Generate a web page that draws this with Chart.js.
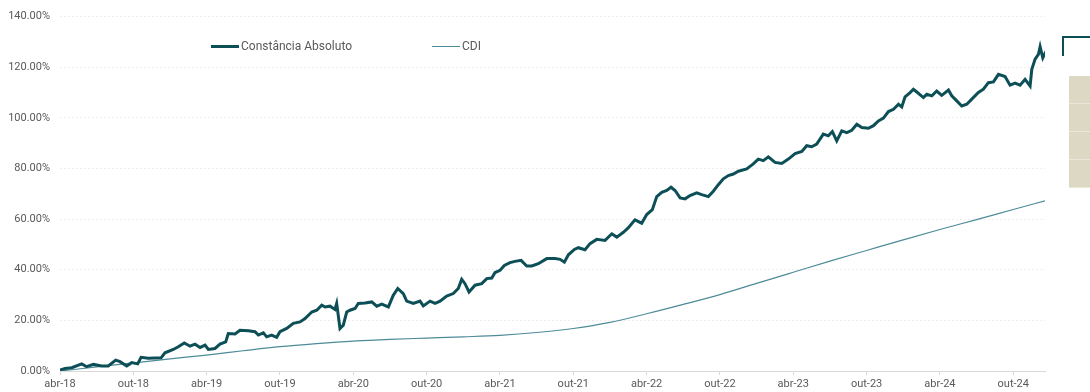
<!DOCTYPE html>
<html lang="pt-BR">
<head>
<meta charset="utf-8">
<title>Constância Absoluto x CDI</title>
<script src="https://cdn.jsdelivr.net/npm/chart.js@4.4.1/dist/chart.umd.min.js"></script>
<style>
  html, body { margin: 0; padding: 0; background: #fff; }
  #wrap { position: relative; width: 1090px; height: 392px; overflow: hidden; font-family: Roboto, "Noto Sans", sans-serif; }
  #grafico { position: absolute; left: 0; top: 0; }
  .leg { position: absolute; top: 39px; font-size: 12px; color: #595959; display: flex; align-items: center; white-space: nowrap; }
  .leg span.amostra { display: inline-block; width: 28px; margin-right: 2px; }
  #colchete { position: absolute; left: 1062px; top: 36px; width: 40px; height: 18px; border-top: 2px solid #0d4f57; border-left: 2px solid #0d4f57; }
  #caixa { position: absolute; left: 1069px; top: 76px; width: 30px; height: 112px; background: #ddd8c3; }
  #caixa div { height: 27px; border-bottom: 1px solid #ebe7da; }
</style>
</head>
<body>
<div id="wrap">
  <canvas id="grafico" width="1090" height="392"></canvas>
  <div class="leg" style="left:211px"><span class="amostra" style="border-top:3px solid #0d4f57"></span>Constância Absoluto</div>
  <div class="leg" style="left:432px"><span class="amostra" style="border-top:1px solid #4d8b99"></span>CDI</div>
  <div id="colchete"></div>
  <div id="caixa"><div></div><div></div><div></div><div></div></div>
</div>
<script>
// meses contados a partir de abr-18 (0 = abr-18)
const rotulosX = ["abr-18", "out-18", "abr-19", "out-19", "abr-20", "out-20", "abr-21",
  "out-21", "abr-22", "out-22", "abr-23", "out-23", "abr-24", "out-24"];
const mesesTicks = [0, 6, 12, 18, 24, 30, 36, 42, 48, 54, 60, 66, 72, 78];

const constanciaMes = [
  0.00, 0.41, 0.96, 1.78, 2.18, 2.73, 3.41, 3.95, 4.56, 4.91, 5.46, 5.87, 6.36, 6.63, 7.23, 8.27,
  8.59, 9.27, 9.68, 10.17, 10.64, 11.05, 11.46, 11.87, 12.14, 12.68, 13.09, 13.56, 13.77, 14.32,
  14.73, 15.41, 15.96, 16.23, 16.64, 16.91, 17.32, 17.73, 18.00, 18.55, 19.09, 19.64, 20.05,
  20.60, 21.01, 21.42, 21.69, 22.09, 22.50, 22.64, 22.91, 23.18, 23.46, 23.73, 24.14, 24.41,
  24.96, 25.51, 25.92, 26.33, 26.87, 27.27, 27.64, 28.09, 28.37, 28.91, 29.46, 29.73, 30.28,
  30.69, 31.10, 31.64, 32.18, 32.59, 32.87, 33.14, 33.47, 33.96, 34.51, 34.92, 35.33, 35.60,
  36.01, 36.36, 36.82, 37.23, 37.73, 38.19, 38.60, 39.14, 39.83, 40.51, 40.92, 41.27, 41.60,
  42.09, 42.41, 42.96, 43.37, 43.92, 44.60, 45.15, 45.56, 46.10, 46.51, 47.05, 47.60, 48.01,
  48.47, 48.83, 49.24, 49.65, 50.00, 50.33, 50.74, 51.15, 51.55, 52.10, 52.51, 53.05, 53.46,
  53.87, 54.28, 54.69, 55.10, 55.51, 56.19, 56.73, 57.14, 57.55, 57.96, 58.51, 59.06, 59.60,
  60.15, 60.70, 61.10, 61.51, 61.92, 62.46, 62.87, 63.20, 63.56, 63.97, 64.38, 64.79, 65.20,
  65.61, 66.15, 66.56, 66.97, 67.38, 67.79, 68.20, 68.61, 68.88, 69.15, 69.56, 69.83, 70.11,
  70.65, 70.93, 71.34, 71.74, 72.15, 72.70, 72.97, 73.38, 73.79, 74.20, 74.61, 75.15, 75.56,
  75.97, 76.38, 76.79, 77.33, 77.74, 78.15, 78.56, 78.97, 79.38, 79.52, 79.79, 80.06, 80.20,
  80.42, 80.69
];
const constanciaVal = [
  0.4, 1.0, 1.3, 2.8, 1.7, 2.6, 2.0, 2.0, 4.3, 3.7, 2.0, 3.3, 2.8, 5.4, 5.0, 5.2,
  7.2, 8.5, 9.6, 11.1, 9.8, 10.6, 9.3, 10.2, 8.5, 8.9, 10.6, 11.5, 14.8, 14.6,
  16.1, 15.9, 15.5, 14.2, 15.1, 13.5, 14.2, 13.3, 15.5, 16.8, 18.8, 19.4, 20.7,
  23.3, 24.0, 26.0, 25.3, 25.6, 24.3, 26.7, 16.8, 18.1, 23.3, 24.0, 24.7, 26.7,
  26.9, 27.3, 25.6, 26.4, 25.3, 29.9, 32.6, 30.6, 27.6, 26.7, 27.6, 25.7, 27.6,
  26.7, 27.6, 29.6, 30.6, 32.6, 36.2, 34.5, 31.2, 33.9, 34.5, 36.5, 36.7, 38.9,
  39.8, 41.7, 42.8, 43.3, 43.7, 41.5, 41.5, 42.4, 44.4, 44.4, 44.1, 43.0, 45.9,
  48.0, 48.7, 47.9, 50.3, 52.0, 51.6, 54.2, 52.9, 54.8, 56.6, 59.7, 58.4, 61.8,
  63.7, 68.9, 70.6, 71.3, 72.6, 71.3, 68.4, 68.0, 69.3, 70.4, 69.7, 68.9, 71.0,
  73.6, 75.9, 77.2, 77.8, 78.9, 79.8, 81.8, 83.7, 83.1, 84.6, 82.4, 82.0, 83.7,
  85.9, 86.7, 89.0, 88.6, 89.6, 93.6, 92.9, 94.6, 90.9, 94.9, 94.2, 95.1, 97.5,
  96.2, 95.9, 96.9, 98.8, 99.9, 102.5, 103.4, 105.4, 104.3, 108.3, 110.0, 111.3, 110.2,
  108.0, 109.3, 108.7, 110.6, 108.9, 111.0, 108.7, 106.7, 104.7, 105.4, 107.4, 110.0, 111.3,
  113.9, 114.2, 117.2, 116.3, 112.9, 113.7, 112.9, 115.2, 112.6, 119.2, 123.2, 125.1, 128.1,
  123.7, 126.4
];

const cdiMes = [0, 3, 6, 9, 12, 15, 18, 21, 24, 27, 30, 33, 36, 39, 42, 45, 48, 51, 54, 57, 60, 63, 66, 69, 72, 75, 78, 80.6];
const cdiVal = [0, 1.6, 3.2, 4.8, 6.3, 8.0, 9.6, 10.8, 11.8, 12.5, 13.0, 13.5, 14.1, 15.2, 16.8, 19.2,
  22.6, 26.3, 30.2, 34.6, 39.0, 43.4, 47.6, 51.8, 55.9, 59.8, 63.8, 67.2];

const ticksY = [0, 20, 40, 60, 80, 100, 120, 140];

const pontos = (xs, ys) => xs.map((x, i) => ({ x: x, y: ys[i] }));

new Chart(document.getElementById("grafico"), {
  type: "line",
  data: {
    datasets: [
      {
        label: "Constância Absoluto",
        data: pontos(constanciaMes, constanciaVal),
        borderColor: "#0d4f57",
        borderWidth: 3,
        pointRadius: 0,
        tension: 0,
        order: 1
      },
      {
        label: "CDI",
        data: pontos(cdiMes, cdiVal),
        borderColor: "#4d8b99",
        borderWidth: 1.2,
        pointRadius: 0,
        cubicInterpolationMode: "monotone",
        order: 2
      }
    ]
  },
  options: {
    responsive: false,
    animation: false,
    devicePixelRatio: 1,
    layout: { padding: { top: 8, right: 45, bottom: 0, left: 0 } },
    plugins: {
      legend: { display: false },
      tooltip: { enabled: false }
    },
    scales: {
      x: {
        type: "linear",
        min: 0,
        max: 80.6,
        afterBuildTicks: s => { s.ticks = mesesTicks.map(v => ({ value: v })); },
        afterFit: s => { s.height = 21; },
        grid: { drawOnChartArea: false, drawTicks: true, tickLength: 4, color: "#d9d9d9" },
        border: { color: "#d9d9d9" },
        ticks: {
          padding: 3,
          maxRotation: 0,
          autoSkip: false,
          color: "#595959",
          font: { family: "Roboto", size: 11 },
          callback: v => rotulosX[mesesTicks.indexOf(v)] || ""
        }
      },
      y: {
        min: 0,
        max: 140,
        afterBuildTicks: s => { s.ticks = ticksY.map(v => ({ value: v })); },
        afterFit: s => { s.width = 60; },
        grid: { color: "#efefef", drawTicks: false },
        border: { display: false, dash: [2, 2] },
        ticks: {
          padding: 10,
          color: "#595959",
          font: { family: "Roboto", size: 11 },
          callback: v => v.toFixed(2) + "%"
        }
      }
    }
  }
});
</script>
</body>
</html>
